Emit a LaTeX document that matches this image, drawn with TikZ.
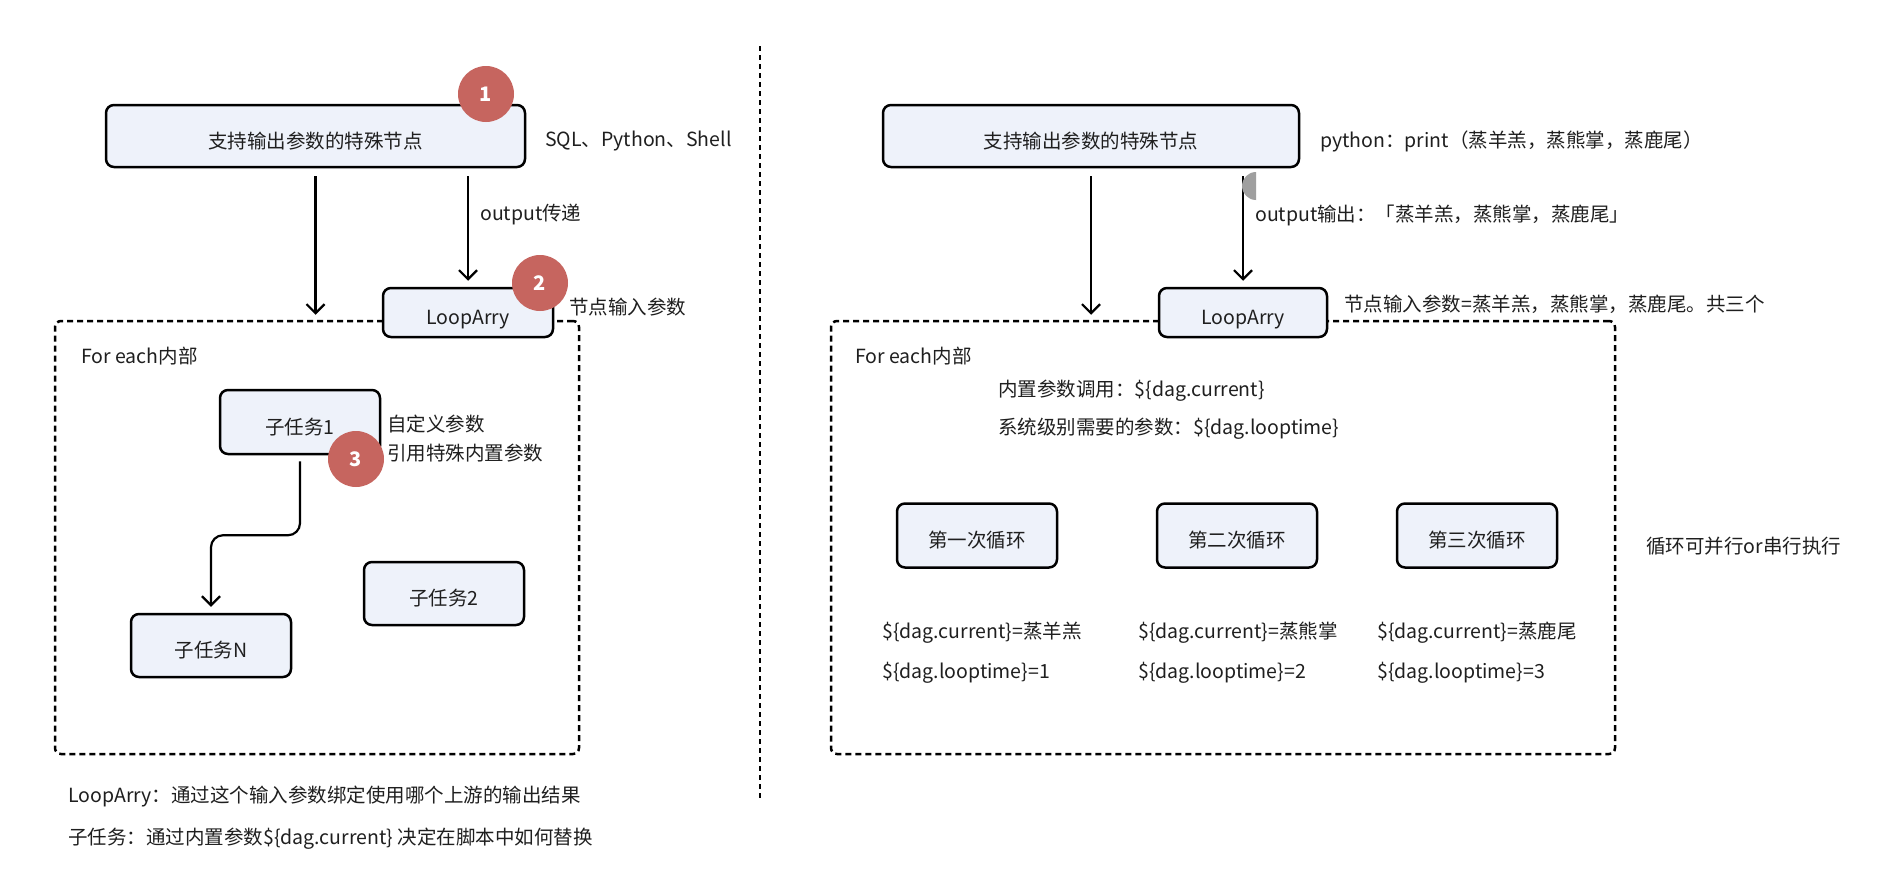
\documentclass[tikz,border=0pt]{standalone}
\usepackage{fontspec}
\setmainfont{Noto Sans CJK SC}
\usetikzlibrary{arrows.meta}
\definecolor{boxfill}{HTML}{EEF2FA}
\definecolor{badgecol}{HTML}{C6655F}
\definecolor{txt}{HTML}{1F1F1F}
\begin{document}
\begin{tikzpicture}[x=1pt,y=-1pt,
  box/.style={draw=black, line width=2.5pt, fill=boxfill, rounded corners=8pt, inner sep=0pt, text height=24pt, text depth=0pt, font=\fontsize{19.5}{23}\selectfont, text=txt},
  lbl/.style={anchor=west, inner sep=0pt, font=\fontsize{19.5}{23}\selectfont, text=txt},
  arr/.style={line width=2.2pt, -{Straight Barb[length=9pt,width=18pt,line width=2.2pt]}},
  badge/.style={circle, fill=badgecol, minimum size=56pt, inner sep=0pt, text=white, font=\fontsize{20}{24}\selectfont\bfseries},
  region/.style={draw=black, line width=2.5pt, dash pattern=on 6pt off 4pt, rounded corners=6pt, inner sep=0pt},
  divider/.style={draw=black, line width=2pt, dash pattern=on 5pt off 4pt}
]
\useasboundingbox[fill=white] (0,0) rectangle (1888,870);

% divider
\coordinate (dtop) at (760,46);
\coordinate (dbot) at (760,800);
\draw[divider] (dtop) -- (dbot);

% ================= LEFT =================
\node[region, minimum width=524pt, minimum height=433pt] (feL) at (317,537.5) {};
\node[box, minimum width=419pt, minimum height=62pt] (srcL) at (315.5,136) {支持输出参数的特殊节点};
\node[box, minimum width=170pt, minimum height=49pt] (loopL) at (468,312.5) {LoopArry};
\node[box, minimum width=160pt, minimum height=64pt] (t1) at (300,422) {子任务1};
\node[box, minimum width=160pt, minimum height=63pt] (t2) at (444,593.5) {子任务2};
\node[box, minimum width=160pt, minimum height=63pt] (tN) at (211,645.5) {子任务N};

\draw[arr, shorten <=8pt, shorten >=5pt] (srcL.south) -- (srcL.south |- feL.north);
\draw[arr, shorten <=8pt, shorten >=6pt] (srcL.south -| loopL.north) -- (loopL.north);
\draw[arr, rounded corners=12pt, shorten <=6pt, shorten >=6pt] (t1.south) -- ++(0,80) -| (tN.north);

\node[lbl] (sqlL) at (545,141) {SQL、Python、Shell};
\node[lbl] (outL) at (480,215) {output传递};
\node[lbl] (inL) at (569,307) {节点输入参数};
\node[lbl] (feLt) at (81,356) {For each内部};
\node[lbl] (cust) at (387,424) {自定义参数};
\node[lbl] (refp) at (387,453) {引用特殊内置参数};
\node[lbl] (note1) at (68,797) {LoopArry：通过这个输入参数绑定使用哪个上游的输出结果};
\node[lbl] (note2) at (68,839) {子任务：通过内置参数\$\{dag.current\} 决定在脚本中如何替换};

\node[badge] (b1) at (486,94) {1};
\node[badge] (b2) at (540,283) {2};
\node[badge] (b3) at (356,459) {3};

% ================= RIGHT =================
\node[region, minimum width=784pt, minimum height=433pt] (feR) at (1223,537.5) {};
\node[box, minimum width=416pt, minimum height=62pt] (srcR) at (1091,136) {支持输出参数的特殊节点};
\node[box, minimum width=168pt, minimum height=49pt] (loopR) at (1243,312.5) {LoopArry};
\node[box, minimum width=160pt, minimum height=64pt] (c1) at (977,535.5) {第一次循环};
\node[box, minimum width=160pt, minimum height=64pt] (c2) at (1237,535.5) {第二次循环};
\node[box, minimum width=160pt, minimum height=64pt] (c3) at (1477,535.5) {第三次循环};

\draw[arr, shorten <=8pt, shorten >=5pt] (srcR.south) -- (srcR.south |- feR.north);
\draw[arr, shorten <=8pt, shorten >=6pt] (srcR.south -| loopR.north) -- (loopR.north);

\coordinate (gc) at (1256,186);
\fill[gray!75] (1256,200) arc (90:270:14) -- cycle;

\node[lbl] (pyR) at (1320,141) {python：print（蒸羊羔，蒸熊掌，蒸鹿尾）};
\node[lbl] (outR) at (1255,215) {output输出：「蒸羊羔，蒸熊掌，蒸鹿尾」};
\node[lbl] (inR) at (1344,304) {节点输入参数=蒸羊羔，蒸熊掌，蒸鹿尾。共三个};
\node[lbl] (feRt) at (855,356) {For each内部};
\node[lbl] (bi1) at (998,391) {内置参数调用：\$\{dag.current\}};
\node[lbl] (bi2) at (998,429) {系统级别需要的参数：\$\{dag.looptime\}};
\node[lbl] (par) at (1646,546) {循环可并行or串行执行};

\node[lbl] (v1a) at (882,633) {\$\{dag.current\}=蒸羊羔};
\node[lbl] (v1b) at (882,673) {\$\{dag.looptime\}=1};
\node[lbl] (v2a) at (1138,633) {\$\{dag.current\}=蒸熊掌};
\node[lbl] (v2b) at (1138,673) {\$\{dag.looptime\}=2};
\node[lbl] (v3a) at (1377,633) {\$\{dag.current\}=蒸鹿尾};
\node[lbl] (v3b) at (1377,673) {\$\{dag.looptime\}=3};
\end{tikzpicture}
\end{document}
